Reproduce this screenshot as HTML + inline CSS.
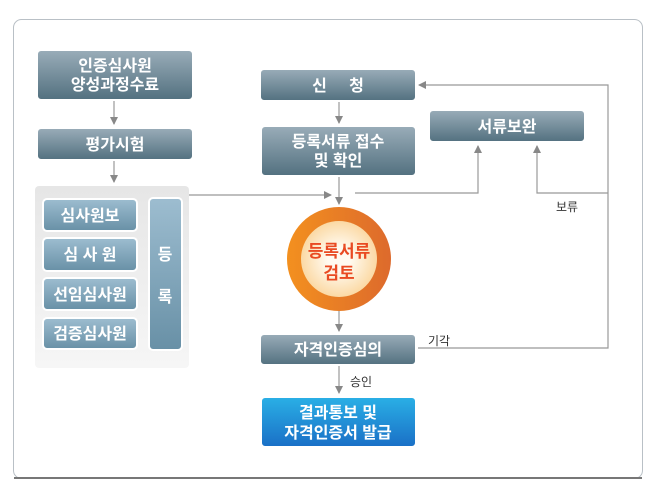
<!DOCTYPE html>
<html><head><meta charset="utf-8"><style>
body{margin:0;background:#fff;width:657px;height:496px;overflow:hidden;font-family:"Liberation Sans","Noto Sans CJK KR",sans-serif}
</style></head><body>
<svg width="657" height="496" xmlns="http://www.w3.org/2000/svg" font-family="Liberation Sans, Noto Sans CJK KR, sans-serif">
<defs>
<linearGradient id="dk" x1="0" y1="0" x2="0" y2="1"><stop offset="0" stop-color="#9aadb9"/><stop offset="1" stop-color="#52707f"/></linearGradient>
<linearGradient id="lb" x1="0" y1="0" x2="0" y2="1"><stop offset="0" stop-color="#9dbdd0"/><stop offset="1" stop-color="#6890a6"/></linearGradient>
<linearGradient id="bl" x1="0" y1="0" x2="0" y2="1"><stop offset="0" stop-color="#2ab0e6"/><stop offset="1" stop-color="#1a6fc6"/></linearGradient>
<linearGradient id="gr" x1="0" y1="0" x2="0" y2="1"><stop offset="0" stop-color="#e6e6e6"/><stop offset="1" stop-color="#f6f6f6"/></linearGradient>
<linearGradient id="or" x1="0" y1="0" x2="1" y2="0"><stop offset="0" stop-color="#f3901f"/><stop offset="1" stop-color="#dd6a2c"/></linearGradient>
<radialGradient id="in"><stop offset="0.3" stop-color="#fffaf0"/><stop offset="1" stop-color="#fbd9a4"/></radialGradient>
<marker id="a" markerWidth="8" markerHeight="8" refX="7" refY="4" orient="auto" markerUnits="userSpaceOnUse"><path d="M0,0 L8,4 L0,8z" fill="#888"/></marker>
</defs>
<rect x="13.5" y="19.5" width="629" height="459" rx="8" fill="#fff" stroke="#b9c0c6"/>
<line x1="14" y1="478" x2="642" y2="478" stroke="#777" stroke-width="2"/>
<g stroke="#999" stroke-width="1.2" fill="none">
<line x1="114" y1="101" x2="114" y2="124" marker-end="url(#a)"/>
<line x1="114" y1="160" x2="114" y2="182" marker-end="url(#a)"/>
<line x1="189" y1="195" x2="331" y2="195" marker-end="url(#a)"/>
<line x1="339" y1="101" x2="339" y2="123" marker-end="url(#a)"/>
<line x1="339" y1="176" x2="339" y2="204" marker-end="url(#a)"/>
<polyline points="355,193 478,193 478,146" marker-end="url(#a)"/>
<polyline points="608,193 537,193 537,146" marker-end="url(#a)"/>
<polyline points="418,348 608,348 608,85 419,85" marker-end="url(#a)"/>
<line x1="339" y1="311" x2="339" y2="331" marker-end="url(#a)"/>
<line x1="339" y1="366" x2="339" y2="393" marker-end="url(#a)"/>
</g>
<g fill="url(#dk)" stroke="#fff" stroke-width="2">
<rect x="37" y="50" width="156" height="50" rx="4"/>
<rect x="37" y="128" width="156" height="32" rx="4"/>
<rect x="260" y="69" width="156" height="32" rx="4"/>
<rect x="261" y="126" width="155" height="50" rx="4"/>
<rect x="429" y="110" width="156" height="32" rx="4"/>
<rect x="260" y="334" width="156" height="31" rx="4"/>
</g>
<rect x="35" y="186" width="154" height="182" rx="4" fill="url(#gr)"/>
<g fill="url(#lb)" stroke="#fff" stroke-width="2">
<rect x="43" y="199" width="94" height="32" rx="4"/>
<rect x="43" y="238" width="94" height="33" rx="4"/>
<rect x="43" y="278" width="94" height="32" rx="4"/>
<rect x="43" y="318" width="94" height="31" rx="4"/>
<rect x="149" y="198" width="33" height="152" rx="4"/>
</g>
<rect x="261" y="397" width="155" height="50" rx="4" fill="url(#bl)" stroke="#fff" stroke-width="2"/>
<circle cx="339" cy="259" r="52" fill="url(#or)"/>
<circle cx="339" cy="259" r="38" fill="url(#in)"/>
<g fill="#fff" font-size="16" font-weight="bold" text-anchor="middle">
<text x="115" y="71">인증심사원</text><text x="115" y="90">양성과정수료</text>
<text x="115" y="150">평가시험</text>
<text x="338" y="91" xml:space="preserve">신     청</text>
<text x="338" y="147">등록서류 접수</text><text x="338" y="166">및 확인</text>
<text x="507" y="132">서류보완</text>
<text x="338" y="355">자격인증심의</text>
<text x="338" y="418">결과통보 및</text><text x="338" y="438">자격인증서 발급</text>
<text x="90" y="221">심사원보</text>
<text x="90" y="260" xml:space="preserve">심 사 원</text>
<text x="90" y="300">선임심사원</text>
<text x="90" y="339">검증심사원</text>
<text x="165" y="260">등</text><text x="165" y="302">록</text>
</g>
<g fill="#e94a22" font-size="17" font-weight="bold" text-anchor="middle">
<text x="339" y="257">등록서류</text><text x="339" y="279">검토</text>
</g>
<g fill="#333" font-size="12">
<text x="556" y="211">보류</text>
<text x="428" y="345">기각</text>
<text x="350" y="386">승인</text>
</g>
</svg>
</body></html>
